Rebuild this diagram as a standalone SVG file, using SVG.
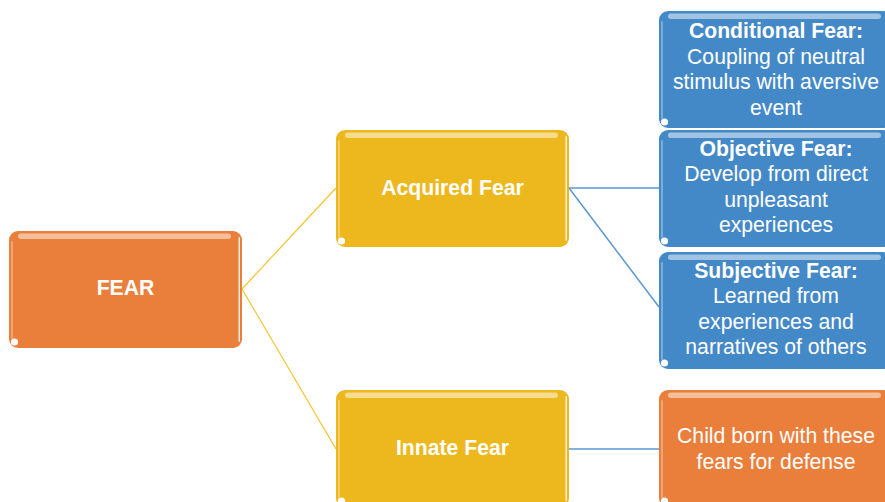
<svg xmlns="http://www.w3.org/2000/svg" width="885" height="502" viewBox="0 0 885 502">
<style>
.box{stroke:none}
.orange{fill:#EA7E3B}
.yellow{fill:#ECB81D}
.blue{fill:#4489C7}
.t{font-family:"Liberation Sans",Arial,sans-serif;font-size:21.2px;fill:#fff;text-anchor:middle}
.b{font-weight:bold}
.cy{stroke:#F4C42A;stroke-width:1.2;fill:none}
.cb{stroke:#5A98D2;stroke-width:1.5;fill:none}
</style>
<defs>
<g id="deco">
<rect x="9" y="2.5" width="213" height="5.5" rx="2.75" fill="#fff" opacity="0.5"/>
<rect x="2" y="10" width="2" height="98" rx="1" fill="#fff" opacity="0.3"/>
<rect x="229.5" y="6" width="1.5" height="105" rx="0.75" fill="#fff" opacity="0.85"/>
<circle cx="5.5" cy="111" r="3.6" fill="#fff"/>
</g>
</defs>
<rect width="885" height="502" fill="#fff"/>
<g id="connectors">
<line class="cy" x1="242" y1="289" x2="336" y2="188"/>
<line class="cy" x1="242" y1="289" x2="336" y2="449"/>
<line class="cb" x1="569" y1="188" x2="659" y2="188"/>
<line class="cb" x1="569" y1="188" x2="659" y2="307"/>
<line class="cb" x1="569" y1="449" x2="659" y2="449"/>
</g>
<g id="fear" transform="translate(9,231)">
<rect class="box orange" width="233" height="117" rx="9"/>
<use href="#deco"/>
<text class="t b" x="116.5" y="64">FEAR</text>
</g>
<g id="acquired" transform="translate(336,130)">
<rect class="box yellow" width="233" height="117" rx="9"/>
<use href="#deco"/>
<text class="t b" x="116.5" y="65">Acquired Fear</text>
</g>
<g id="innate" transform="translate(336,390)">
<rect class="box yellow" width="233" height="117" rx="9"/>
<use href="#deco"/>
<text class="t b" x="116.5" y="65">Innate Fear</text>
</g>
<g id="conditional" transform="translate(659,11)">
<rect class="box blue" width="233" height="117" rx="9"/>
<use href="#deco"/>
<text class="t" x="117" y="27"><tspan class="b">Conditional Fear:</tspan><tspan x="117" dy="25.5">Coupling of neutral</tspan><tspan x="117" dy="25.5">stimulus with aversive</tspan><tspan x="117" dy="25.5">event</tspan></text>
</g>
<g id="objective" transform="translate(659,130)">
<rect class="box blue" width="233" height="117" rx="9"/>
<use href="#deco"/>
<text class="t" x="117" y="25.5"><tspan class="b">Objective Fear:</tspan><tspan x="117" dy="25.5">Develop from direct</tspan><tspan x="117" dy="25.5">unpleasant</tspan><tspan x="117" dy="25.5">experiences</tspan></text>
</g>
<g id="subjective" transform="translate(659,252)">
<rect class="box blue" width="233" height="117" rx="9"/>
<use href="#deco"/>
<text class="t" x="117" y="25.5"><tspan class="b">Subjective Fear:</tspan><tspan x="117" dy="25.5">Learned from</tspan><tspan x="117" dy="25.5">experiences and</tspan><tspan x="117" dy="25.5">narratives of others</tspan></text>
</g>
<g id="child" transform="translate(659,390)">
<rect class="box orange" width="233" height="117" rx="9"/>
<use href="#deco"/>
<text class="t" x="117" y="53">Child born with these<tspan x="117" dy="25.5">fears for defense</tspan></text>
</g>
</svg>
